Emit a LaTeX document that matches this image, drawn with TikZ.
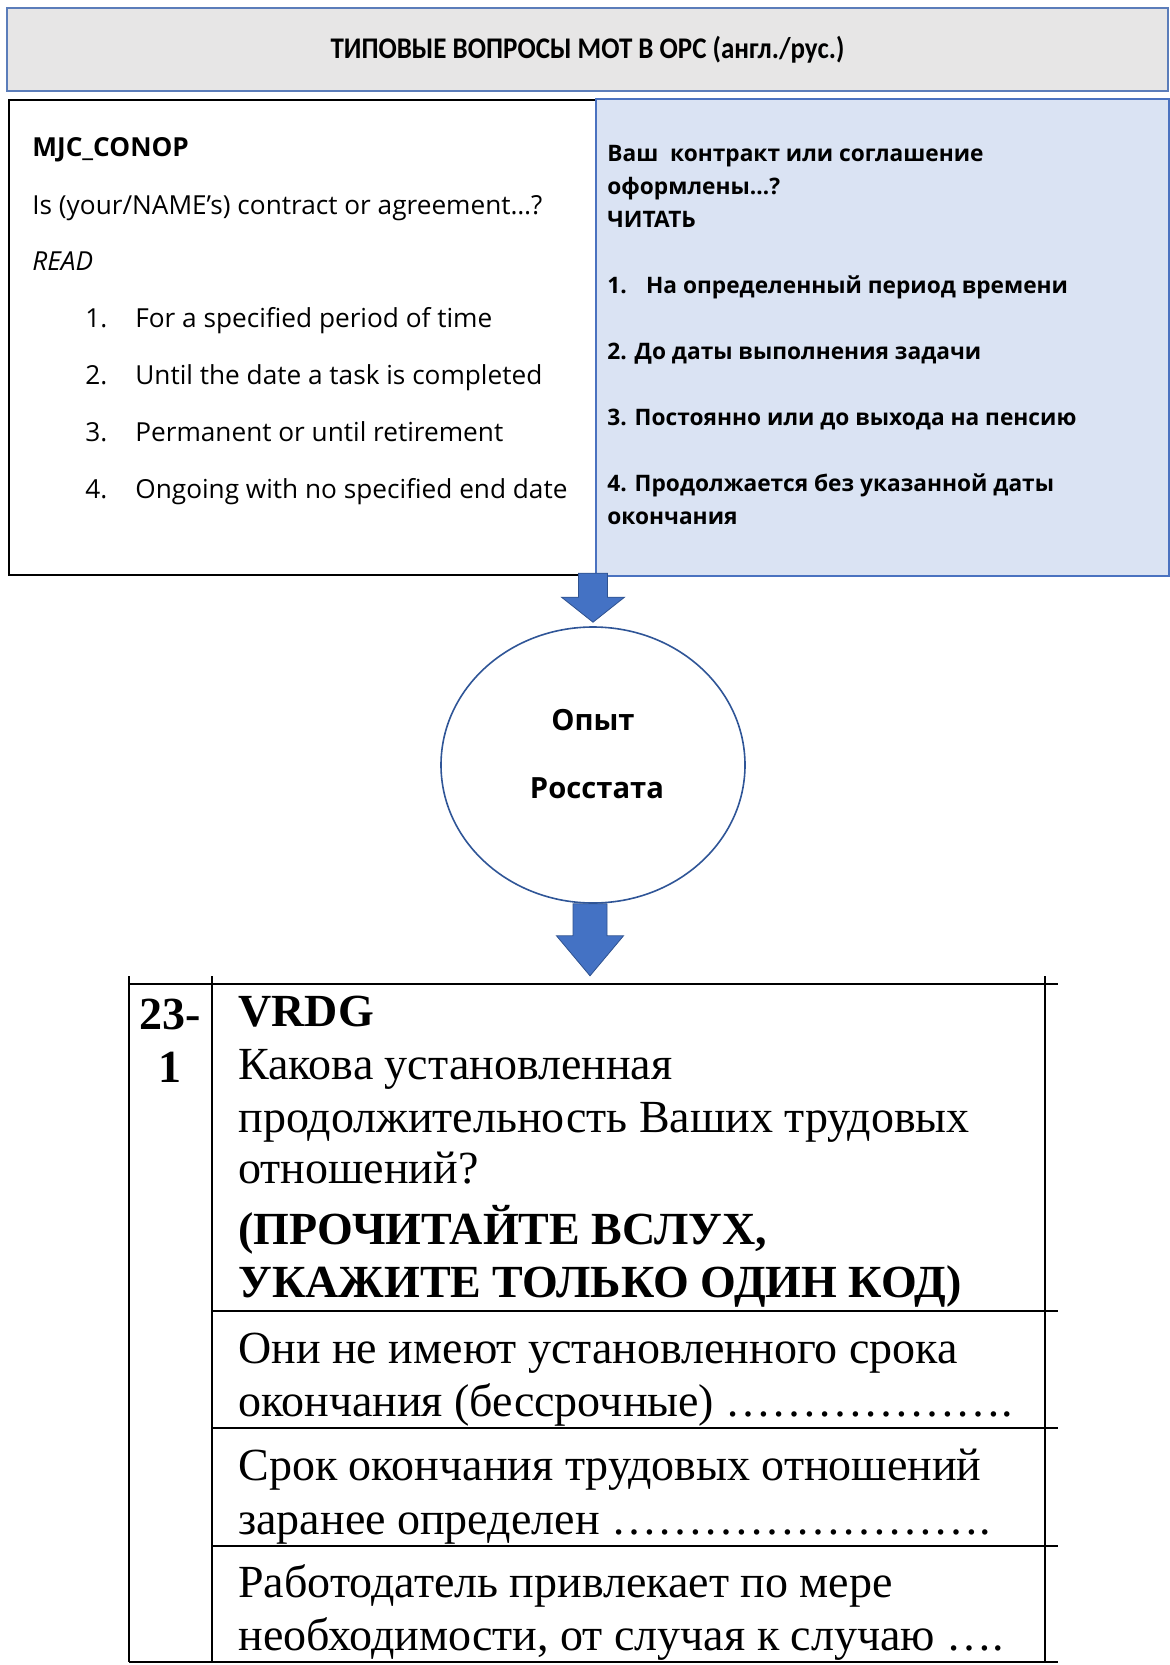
\documentclass[tikz,border=0pt]{standalone}
\usepackage{fontspec}
\setmainfont{Liberation Serif}
\newfontfamily\hdrfont[FakeStretch=0.9]{Carlito}
\newfontfamily\boxfont{Open Sans}
\usepackage{xcolor}
\usepackage{tikz}
\usetikzlibrary{calc}
\usetikzlibrary{positioning}
\usetikzlibrary{shapes}

\definecolor{hdrgray}{HTML}{E7E6E6}
\definecolor{hdrblue}{HTML}{5B7DBA}
\definecolor{ruslight}{HTML}{DAE3F3}
\definecolor{rusblue}{HTML}{4A72C0}
\definecolor{arrowblue}{HTML}{4472C4}
\definecolor{arrowedge}{HTML}{2F528F}
\definecolor{circblue}{HTML}{2F5597}

\begin{document}
\begin{tikzpicture}[x=0.5pt, y=-0.5pt,
    blockarrow/.style={fill=arrowblue, draw=arrowedge, line width=0.4pt},
    tblline/.style={line width=1.4pt, black},
    engtext/.style={anchor=west, inner sep=0pt, text height=9.8pt, text depth=3.3pt,
      font=\boxfont\fontsize{13.1}{15}\selectfont},
    rustext/.style={anchor=west, inner sep=0pt, text height=8.5pt, text depth=2.7pt,
      font=\boxfont\bfseries\fontsize{11.35}{13}\selectfont},
    tbltext/.style={anchor=west, inner sep=0pt, text height=17pt, text depth=5pt,
      font=\fontsize{23}{26.5}\selectfont}]

  \useasboundingbox (0,0) rectangle (1169,1665);

  \node[draw=hdrblue, fill=hdrgray, line width=0.9pt, minimum width=580.5pt, minimum height=41.5pt,
    font=\hdrfont\bfseries\fontsize{15}{18}\selectfont] (hdr) at (587.5,49.5)
    {ТИПОВЫЕ ВОПРОСЫ МОТ В ОРС (англ./рус.)};

  \node[draw, line width=1pt, minimum width=294.5pt, minimum height=237.5pt, anchor=north west] (engbox) at (8,99) {};
  \node[draw=rusblue, fill=ruslight, line width=0.8pt, minimum width=286.5pt, minimum height=238.5pt,
    anchor=north west] (rusbox) at (595,98) {};

  \node[engtext, font=\boxfont\bfseries\fontsize{13.1}{15}\selectfont] (mjc) at (32,150) {MJC\_CONOP};
  \node[engtext] (isq) at (32,208) {Is (your/NAME’s) contract or agreement…?};
  \node[engtext, font=\boxfont\itshape\fontsize{13.1}{15}\selectfont] (readen) at (32,264) {READ};
  \foreach \t [count=\i] in {For a specified period of time, Until the date a task is completed,
      Permanent or until retirement, Ongoing with no specified end date}{
    \node[engtext] (num\i) at (85, 264+57*\i) {\i.};
    \node[engtext] (item\i) at (135, 264+57*\i) {\t};
  }

  \foreach \k/\t in {0/{Ваш\ \ контракт или соглашение}, 1/{оформлены…?}, 2/{ЧИТАТЬ},
      4/{1.\hspace{0.85em}На определенный период времени}, 6/{2. До даты выполнения задачи},
      8/{3. Постоянно или до выхода на пенсию}, 10/{4. Продолжается без указанной даты},
      11/{окончания}}{
    \node[rustext] (rusl\k) at (607, 156+33*\k) {\t};
  }

  \node[ellipse, draw=circblue, line width=0.8pt, fill=white, minimum width=152pt, minimum height=138pt,
    inner sep=0pt] (opyt) at (593,765) {};
  \node[font=\boxfont\bfseries\fontsize{14.6}{17}\selectfont] (opytl1) at (593,720) {Опыт};
  \node[font=\boxfont\bfseries\fontsize{14.6}{17}\selectfont] (opytl2) at (597,788) {Росстата};

  \draw[blockarrow] (opyt.north) ++(0,-4) coordinate (tip1) -- ++(-31.5,-25) -- ++(17,0) -- ++(0,-24)
    -- ++(29,0) -- ++(0,24) -- ++(17,0) -- cycle;
  \draw[blockarrow] (opyt.south) ++(-20,0) -- ++(0,32) -- ++(-16.5,0) -- ++(33.5,40) coordinate (tip2)
    -- ++(33.5,-40) -- ++(-16.5,0) -- ++(0,-32) -- cycle;

  \draw[tblline] (129,984) -- (1058,984);
  \draw[tblline] (129,1662) -- (1058,1662);
  \foreach \y in {1311,1428,1546}
    \draw[tblline] (212,\y) -- (1058,\y);
  \foreach \x in {129,212,1045}
    \draw[tblline] (\x,976) -- (\x,1662);

  \node[font=\bfseries\fontsize{23}{26.5}\selectfont] (qnum1) at (170,1014) {23-};
  \node[font=\bfseries\fontsize{23}{26.5}\selectfont] (qnum2) at (170,1067) {1};

  \node[tbltext, font=\bfseries\fontsize{23}{26.5}\selectfont] (vrdg) at (238,1014) {VRDG};
  \foreach \y/\t in {1067/{Какова установленная}, 1120/{продолжительность Ваших трудовых},
      1171/{отношений?}, 1351/{Они не имеют установленного срока},
      1404/{окончания (бессрочные) ……………….}, 1468/{Срок окончания трудовых отношений},
      1522/{заранее определен …………………….}, 1585/{Работодатель привлекает по мере},
      1638/{необходимости, от случая к случаю ….}}{
    \node[tbltext] at (238,\y) {\t};
  }
  \node[tbltext, font=\bfseries\fontsize{23}{26.5}\selectfont] (readru1) at (238,1232) {(ПРОЧИТАЙТЕ ВСЛУХ,};
  \node[tbltext, font=\bfseries\fontsize{23}{26.5}\selectfont] (readru2) at (238,1285) {УКАЖИТЕ ТОЛЬКО ОДИН КОД)};

\end{tikzpicture}
\end{document}
